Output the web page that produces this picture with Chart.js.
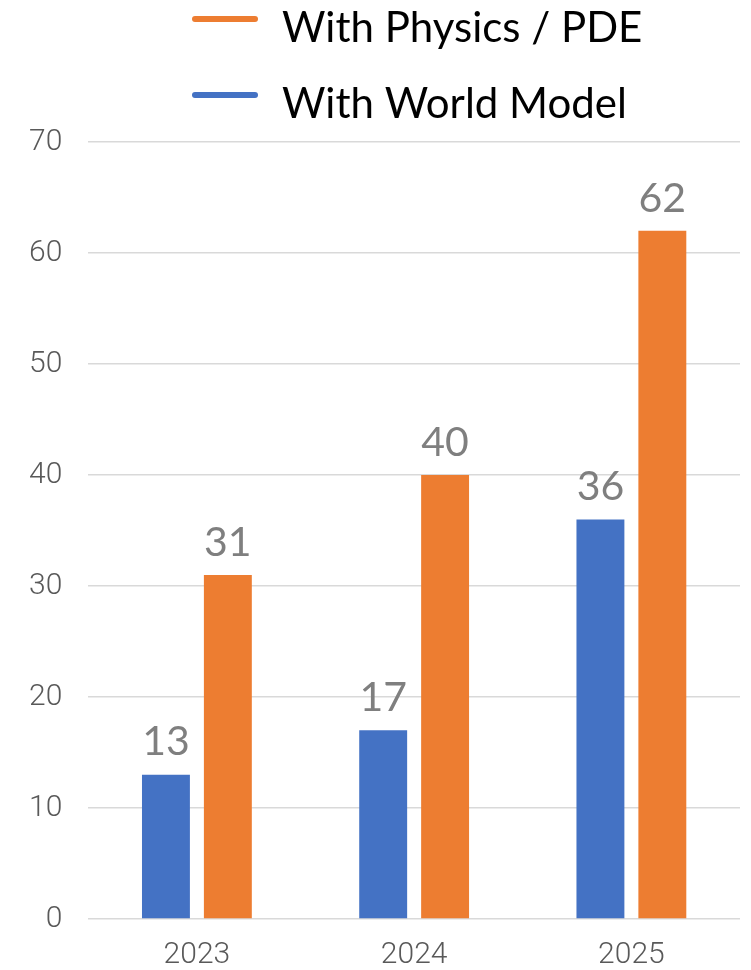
<!DOCTYPE html>
<html>
<head>
<meta charset="utf-8">
<script src="https://cdn.jsdelivr.net/npm/chart.js@4/dist/chart.umd.min.js"></script>
<style>
  html, body { margin: 0; padding: 0; background: #fff; }
  #wrap { width: 751px; height: 970px; }
</style>
</head>
<body>
<div id="wrap"><canvas id="myChart"></canvas></div>
<script>
const years = ['2023', '2024', '2025'];
const worldModel = [13, 17, 36];
const physicsPde = [31, 40, 62];
const yTicks = [0, 10, 20, 30, 40, 50, 60, 70];

const blue = '#4472C4';
const orange = '#ED7D31';

// small canvas used as legend marker: a short line sitting a bit above text middle
function lineMarker(color) {
    const c = document.createElement('canvas');
    c.width = 69;
    c.height = 42;
    const g = c.getContext('2d');
    g.strokeStyle = color;
    g.lineWidth = 6;
    g.lineCap = 'round';
    g.beginPath();
    g.moveTo(3, 12);
    g.lineTo(63, 12);
    g.stroke();
    return c;
}

// value labels above each bar
const barLabels = {
    id: 'barLabels',
    afterDatasetsDraw(chart) {
        const ctx = chart.ctx;
        ctx.save();
        ctx.font = '41px Lato';
        ctx.fillStyle = '#7f7f7f';
        ctx.textAlign = 'center';
        ctx.textBaseline = 'bottom';
        chart.data.datasets.forEach((ds, i) => {
            chart.getDatasetMeta(i).data.forEach((bar, j) => {
                ctx.fillText(ds.data[j], bar.x, bar.y - 12);
            });
        });
        ctx.restore();
    }
};

// both legend rows start at the same x in the original
const legendShift = {
    id: 'legendShift',
    afterLayout(chart) {
        chart.legend.left += 155;
        chart.legend.right += 155;
    }
};

const graphData = {
    labels: years,
    datasets: [
        {
            label: 'With World Model',
            data: worldModel,
            backgroundColor: blue,
        },
        {
            label: 'With Physics / PDE',
            data: physicsPde,
            backgroundColor: orange,
        }
    ]
};

const tickFont = { family: 'Roboto', size: 30, weight: 300, lineHeight: 1 };

const config = {
    type: 'bar',
    data: graphData,
    options: {
        responsive: true,
        maintainAspectRatio: false,
        animation: false,
        layout: {
            padding: { top: -27, left: 3, right: 11, bottom: -21 }
        },
        datasets: {
            bar: {
                categoryPercentage: 0.57,
                barPercentage: 0.774
            }
        },
        plugins: {
            tooltip: { enabled: false },
            // empty spacer between legend and plot
            subtitle: {
                display: true,
                text: '',
                weight: 500,
                font: { size: 1, lineHeight: 1 },
                padding: { top: 0, bottom: 6 }
            },
            legend: {
                position: 'top',
                align: 'start',
                reverse: true,
                labels: {
                    font: { family: 'Lato', size: 42 },
                    color: '#000',
                    padding: 34,
                    usePointStyle: true,
                    pointStyleWidth: 69,
                    generateLabels(chart) {
                        const items = Chart.defaults.plugins.legend.labels.generateLabels(chart);
                        items.forEach(it => {
                            it.pointStyle = lineMarker(it.fillStyle);
                        });
                        return items;
                    }
                }
            }
        },
        scales: {
            x: {
                grid: { display: false, drawTicks: false },
                border: { display: false },
                ticks: {
                    color: '#595959',
                    font: tickFont,
                    padding: 21
                }
            },
            y: {
                min: 0,
                max: 70,
                border: { display: false },
                grid: { color: '#d9d9d9', lineWidth: 1.5, drawTicks: false },
                afterBuildTicks(scale) {
                    scale.ticks = yTicks.map(v => ({ value: v }));
                },
                ticks: {
                    color: '#595959',
                    font: tickFont,
                    padding: 26
                }
            }
        }
    },
    plugins: [barLabels, legendShift]
};

var myChart = new Chart(document.getElementById('myChart'), config);
</script>
</body>
</html>
